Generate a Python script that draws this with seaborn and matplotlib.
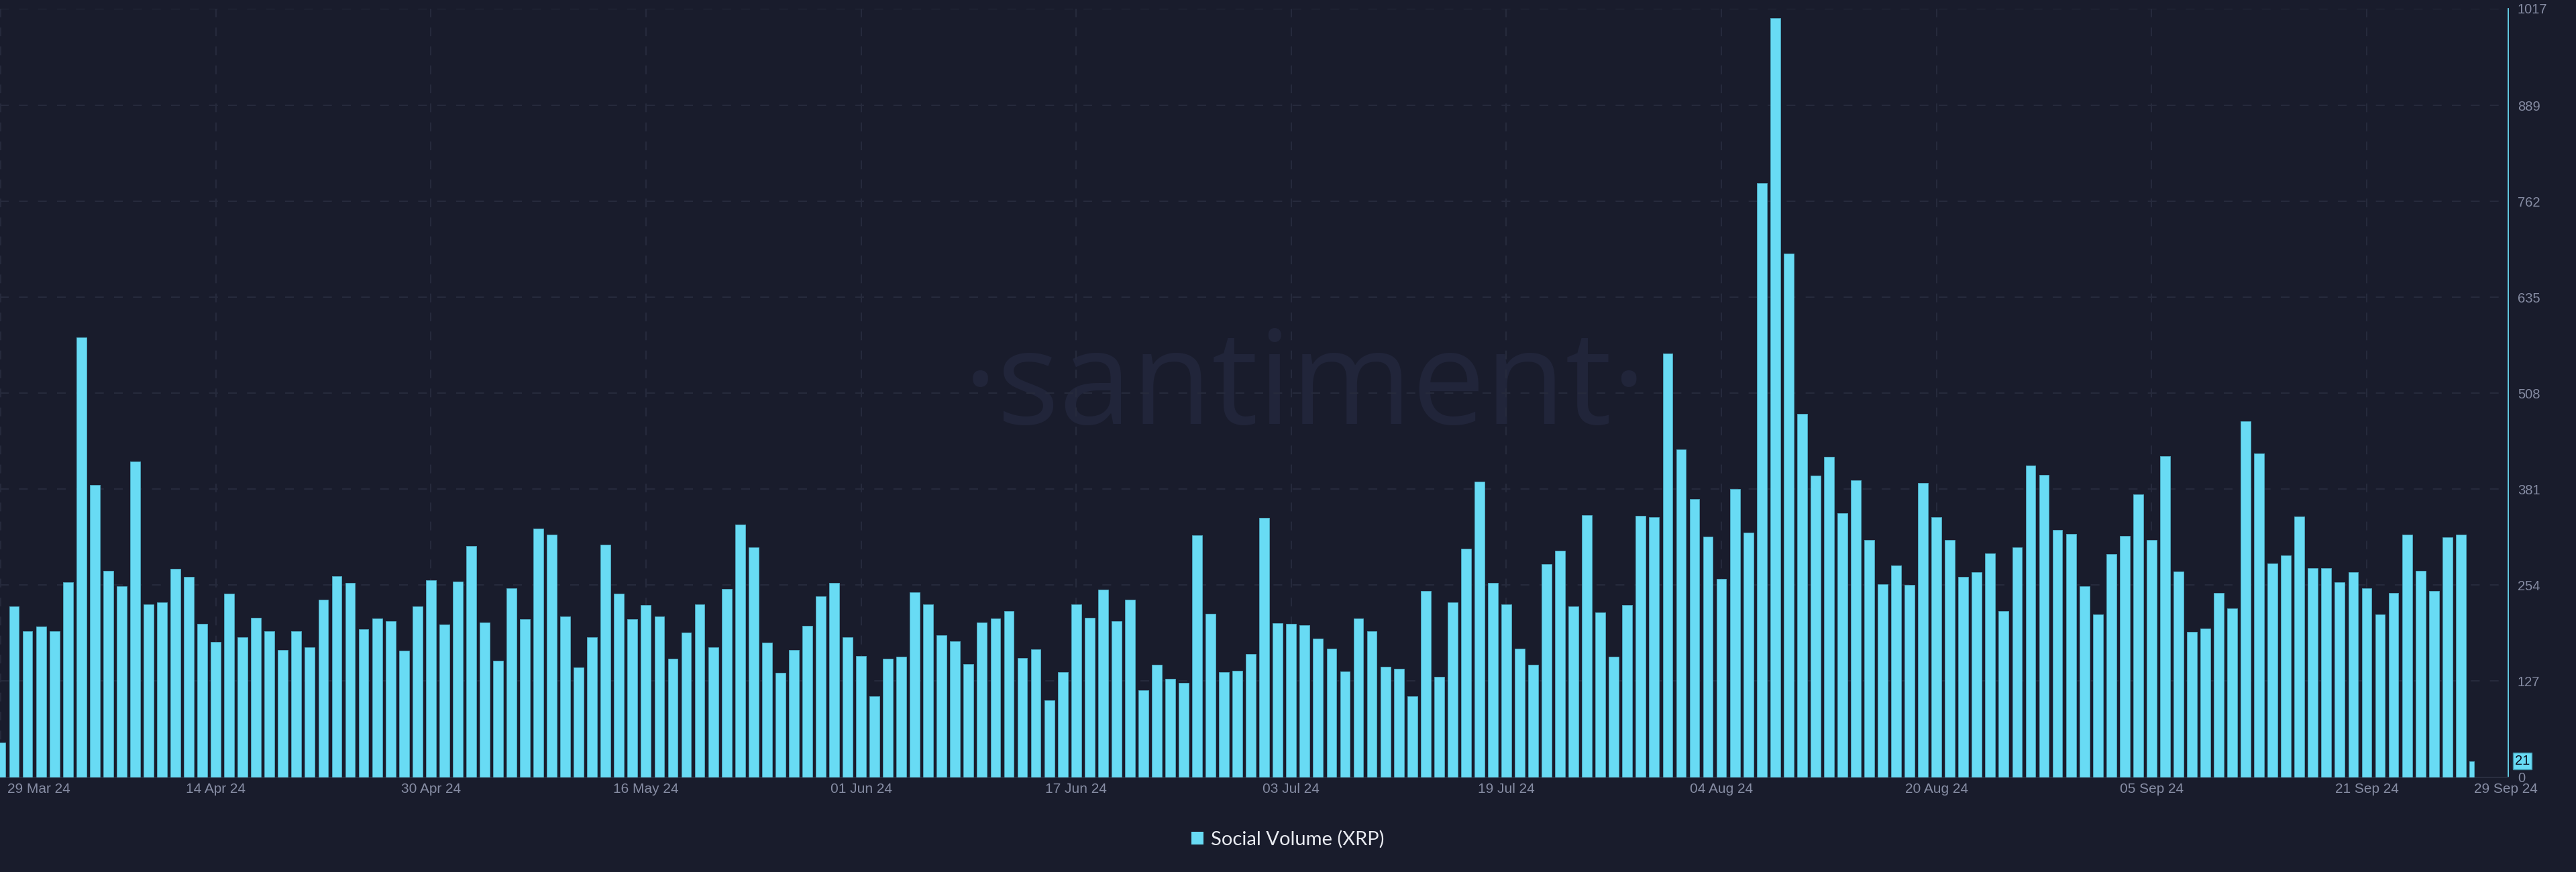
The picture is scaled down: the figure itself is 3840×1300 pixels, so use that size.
import matplotlib
matplotlib.use('Agg')
import matplotlib.pyplot as plt
import matplotlib.transforms as mtransforms
from matplotlib import font_manager
from matplotlib.patches import Patch
import seaborn as sns
import pandas as pd

# Daily social volume for XRP, 29 Mar 24 -> 29 Sep 24 (last day is partial)
dates = pd.date_range('2024-03-29', '2024-09-29', freq='D')
social_volume = [
    46, 226, 193, 199, 193, 258, 582, 387, 273, 253,
    418, 229, 231, 276, 265, 203, 179, 243, 185, 211,
    193, 168, 193, 172, 235, 266, 257, 196, 210, 206,
    167, 226, 261, 202, 259, 306, 205, 154, 250, 209,
    329, 321, 213, 145, 185, 308, 243, 209, 228, 213,
    157, 191, 229, 172, 249, 334, 304, 178, 138, 168,
    200, 239, 257, 185, 160, 107, 157, 159, 245, 229,
    188, 180, 150, 205, 210, 220, 158, 169, 102, 139,
    229, 211, 248, 206, 235, 115, 149, 130, 125, 320,
    216, 139, 141, 163, 343, 204, 203, 201, 183, 170,
    140, 210, 193, 146, 143, 107, 246, 133, 231, 302,
    391, 257, 229, 170, 149, 282, 300, 226, 347, 218,
    159, 228, 346, 344, 561, 434, 368, 318, 262, 381,
    324, 786, 1005, 693, 481, 399, 424, 349, 393, 314,
    255, 280, 254, 389, 344, 314, 265, 271, 296, 220,
    304, 412, 400, 327, 322, 253, 215, 295, 319, 374,
    314, 425, 272, 192, 197, 244, 223, 471, 428, 283,
    293, 345, 277, 277, 258, 271, 250, 215, 244, 321,
    273, 246, 317, 321, 21,
]
tick_days = [0, 16, 32, 48, 64, 80, 96, 112, 128, 144, 160, 176, 184]
tick_labels = ['29 Mar 24', '14 Apr 24', '30 Apr 24', '16 May 24', '01 Jun 24',
               '17 Jun 24', '03 Jul 24', '19 Jul 24', '04 Aug 24', '20 Aug 24',
               '05 Sep 24', '21 Sep 24', '29 Sep 24']
y_ticks = [0, 127, 254, 381, 508, 635, 762, 889, 1017]

bg = '#191c2c'
bar_color = '#68dbf4'
grid_color = '#272b3d'
label_color = '#868ca3'

sns.set_style('dark', rc={'axes.facecolor': bg, 'figure.facecolor': bg})
plt.rcParams['font.family'] = ['Liberation Sans', 'DejaVu Sans']
plt.rcParams['lines.scale_dashes'] = False

df = pd.DataFrame({'date': dates.strftime('%Y-%m-%d'), 'volume': social_volume})

fig = plt.figure(figsize=(38.4, 13), dpi=100)
ax = fig.add_axes([0, 1 - 1158.5 / 1300, 3739 / 3840, (1158.5 - 13) / 1300])

sns.barplot(data=df, x='date', y='volume', color=bar_color, saturation=1,
            width=0.74, edgecolor='#4aa3ba', linewidth=0.7, ax=ax, zorder=3)

# the current day is only partly drawn
last = ax.patches[-1]
last.set_width(last.get_width() / 2)

ax.set_xlim(-0.05, 186.53)
ax.set_ylim(0, 1017)
ax.set_xlabel('')
ax.set_ylabel('')
ax.grid(False)
ax.set_xticks(tick_days, tick_labels)
ax.set_yticks(y_ticks)
ax.yaxis.tick_right()
ax.tick_params(axis='x', length=0, pad=6, labelsize=15, labelcolor=label_color)
ax.tick_params(axis='y', length=0, pad=10, labelsize=14.5, labelcolor=label_color)

xlabels = ax.get_xticklabels()
xlabels[0].set_horizontalalignment('left')
xlabels[0].set_transform(xlabels[0].get_transform() +
                         mtransforms.ScaledTranslation(0.097, 0, fig.dpi_scale_trans))
xlabels[-1].set_horizontalalignment('left')

for y in y_ticks[1:]:
    ax.axhline(y, color=grid_color, lw=1.4, ls=(0, (9.4, 11)), zorder=1)
for d in tick_days[:-1]:
    ax.axvline(d, color=grid_color, lw=1.4, ls=(0, (9.4, 11)), zorder=1)

for side in ['left', 'top']:
    ax.spines[side].set_visible(False)
ax.spines['right'].set_color(bar_color)
ax.spines['right'].set_linewidth(1.3)
ax.spines['bottom'].set_color('#2a2e40')
ax.spines['bottom'].set_linewidth(1.5)

# watermark
names = {f.name for f in font_manager.fontManager.ttflist}
if 'Liberation Sans Narrow' in names:
    wm_family, wm_size = 'Liberation Sans Narrow', 180
else:
    wm_family, wm_size = 'Open Sans', 140
ax.text(1945.5 / 3840, 1 - 632 / 1300, '·santiment·', transform=fig.transFigure,
        ha='center', va='baseline', fontsize=wm_size, family=wm_family,
        color='#21253a', zorder=0.5)

# last value badge
ax.annotate(str(social_volume[-1]), xy=(1, social_volume[-1]),
            xycoords=('axes fraction', 'data'), xytext=(10, 0),
            textcoords='offset pixels', ha='left', va='center', fontsize=14.5,
            color='#0d1020', annotation_clip=False,
            bbox=dict(boxstyle='square,pad=0.15', fc=bar_color, ec='#3b8da3', lw=1))

handle = Patch(facecolor=bar_color, edgecolor='none', label='Social Volume (XRP)')
fig.legend(handles=[handle], loc='center', bbox_to_anchor=(0.5, 1 - 1251 / 1300),
           frameon=False, prop={'family': 'Lato', 'size': 21}, labelcolor='#e8eaf0',
           handlelength=0.62, handleheight=0.62, handletextpad=0.37)

fig.savefig('out.png', dpi=100, facecolor=bg)
plt.close(fig)
